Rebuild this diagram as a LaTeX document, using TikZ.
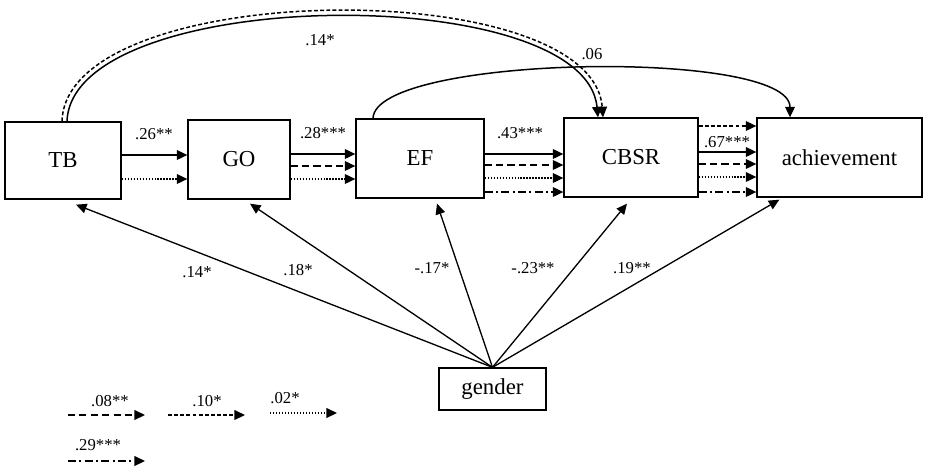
\documentclass[tikz,border=0pt]{standalone}
\usepackage{fontspec}
\setmainfont{Liberation Serif}
\usetikzlibrary{arrows.meta,calc,positioning}

\begin{document}
\begin{tikzpicture} [ % 先定义样式
            x=0.02cm, y=-0.02cm, line width=0.85pt, >={Triangle[length=6pt,width=5.5pt]},
            box/.style = {rectangle, draw, line width=0.75pt, inner sep=0pt, font=\fontsize{13}{15}\selectfont},
            lab/.style = {inner sep=1pt, font=\fontsize{9.5}{11}\selectfont},
            dashln/.style = {dash pattern=on 4pt off 2.5pt},
            ddashln/.style = {dash pattern=on 2.2pt off 1.3pt},
            dotln/.style = {dash pattern=on 0.85pt off 0.85pt},
            dashdotln/.style = {dash pattern=on 4.5pt off 2pt on 1pt off 2pt},
            garr/.style = {->, line width=0.75pt}
        ]

        \useasboundingbox (0,0) rectangle (927,467);

        % 方框
        \node [box, minimum width=2.32cm, minimum height=1.54cm] (tb) at (63,160.5) {TB};
        \node [box, minimum width=2.04cm, minimum height=1.58cm] (go) at (239,159.5) {GO};
        \node [box, minimum width=2.56cm, minimum height=1.58cm] (ef) at (420,158.5) {EF};
        \node [box, minimum width=2.68cm, minimum height=1.58cm] (cbsr) at (631,157.5) {CBSR};
        \node [box, minimum width=3.30cm, minimum height=1.58cm] (ach) at (839.5,157.5) {achievement};
        \node [box, minimum width=2.14cm, minimum height=0.84cm] (gender) at (492.5,389) {gender};

        % TB -> GO
        \draw [->] (tb.east |- 0,155) -- (go.west |- 0,155);
        \draw [->, dotln] (tb.east |- 0,179) -- (go.west |- 0,179);
        \node [lab] (l26) at (154,134) {.26**};

        % GO -> EF
        \draw [->] (go.east |- 0,154) -- (ef.west |- 0,154);
        \draw [->, dashln] (go.east |- 0,166) -- (ef.west |- 0,166);
        \draw [->, dotln] (go.east |- 0,179) -- (ef.west |- 0,179);
        \node [lab] (l28) at (323,133) {.28***};

        % EF -> CBSR
        \draw [->] (ef.east |- 0,154) -- (cbsr.west |- 0,154);
        \draw [->, dashln] (ef.east |- 0,165) -- (cbsr.west |- 0,165);
        \draw [->, dotln] (ef.east |- 0,178) -- (cbsr.west |- 0,178);
        \draw [->, dashdotln] (ef.east |- 0,192) -- (cbsr.west |- 0,192);
        \node [lab] (l43) at (520,133) {.43***};

        % CBSR -> achievement
        \draw [->, ddashln] (cbsr.east |- 0,126) -- (ach.west |- 0,126);
        \draw [->] (cbsr.east |- 0,152) -- (ach.west |- 0,152);
        \draw [->, dashln] (cbsr.east |- 0,164) -- (ach.west |- 0,164);
        \draw [->, dotln] (cbsr.east |- 0,177) -- (ach.west |- 0,177);
        \draw [->, dashdotln] (cbsr.east |- 0,192) -- (ach.west |- 0,192);
        \node [lab] (l67) at (727,142) {.67***};

        % 弧线
        \draw [->] ($(tb.north)+(4,0)$) .. controls (72,-15) and (585,-20) .. ($(cbsr.north)+(-33,0)$);
        \draw [->, ddashln] ($(tb.north)+(-1,0)$) .. controls (66,-22) and (592,-27) .. ($(cbsr.north)+(-28,0)$);
        \node [lab] (l14a) at (320,40) {.14*};
        \draw [->] ($(ef.north)+(-47,0)$) .. controls (375,55) and (790,48) .. ($(ach.north)+(-49.5,0)$);
        \node [lab] (l06) at (592,54) {.06};

        % gender
        \draw [garr] (gender.north) -- ($(tb.south)+(13,5)$);
        \draw [garr] (gender.north) -- ($(go.south)+(11,4)$);
        \draw [garr] (gender.north) -- ($(ef.south)+(17,5)$);
        \draw [garr] (gender.north) -- ($(cbsr.south)+(-4,6)$);
        \draw [garr] (gender.north) -- ($(ach.south west)+(23,2)$);
        \node [lab] (g14) at (197,272) {.14*};
        \node [lab] (g18) at (298,270) {.18*};
        \node [lab] (g17) at (432,268) {-.17*};
        \node [lab] (g23) at (533,268) {-.23**};
        \node [lab] (g19) at (632,268) {.19**};

        % 图例
        \coordinate (k1) at (68,415);  \coordinate (k1e) at (145,415);
        \coordinate (k2) at (168,415); \coordinate (k2e) at (245,415);
        \coordinate (k3) at (270,413); \coordinate (k3e) at (337,413);
        \coordinate (k4) at (68,461);  \coordinate (k4e) at (145,461);
        \draw [->, dashln] (k1) -- (k1e);
        \draw [->, ddashln] (k2) -- (k2e);
        \draw [->, dotln] (k3) -- (k3e);
        \draw [->, dashdotln] (k4) -- (k4e);
        \node [lab] (k08) at (110,401) {.08**};
        \node [lab] (k10) at (207,401) {.10*};
        \node [lab] (k02) at (285,398) {.02*};
        \node [lab] (k29) at (98,445) {.29***};

    \end{tikzpicture}
\end{document}
